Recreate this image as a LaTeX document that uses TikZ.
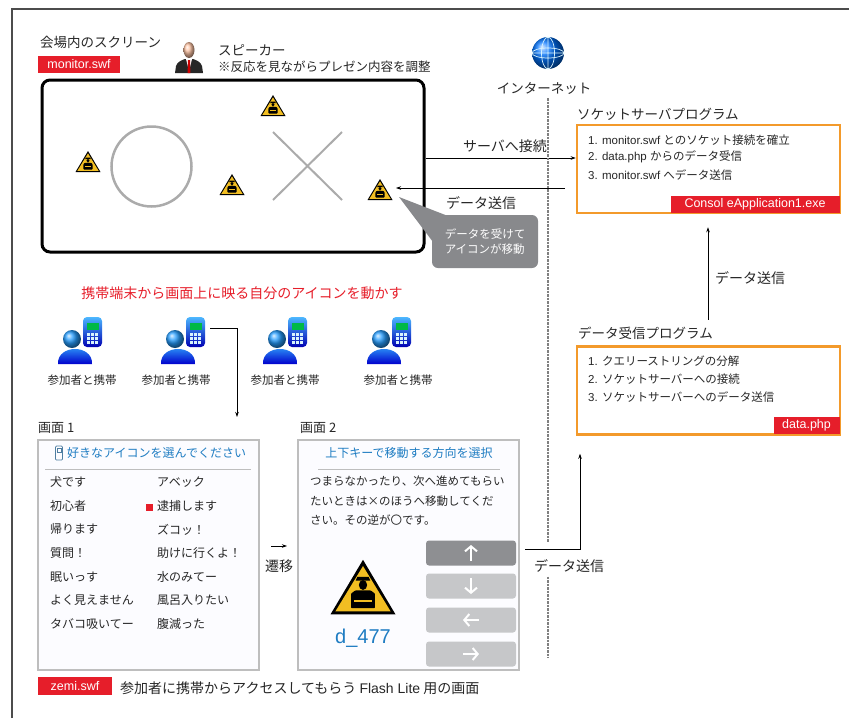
\documentclass[tikz,border=0pt]{standalone}
\usepackage{fontspec}
\setmainfont{Noto Sans CJK JP}
\newfontfamily\lat{Liberation Sans}
\usetikzlibrary{arrows.meta}

\definecolor{tagred}{HTML}{E61E2A}
\definecolor{frameorange}{HTML}{F39A2B}
\definecolor{keyblue}{HTML}{1E7CC2}
\definecolor{signyellow}{HTML}{F2BE22}
\definecolor{panelgray}{HTML}{BEBEBE}
\definecolor{keydark}{HTML}{8E8F92}
\definecolor{keylight}{HTML}{C6C7C9}
\definecolor{bubblegray}{HTML}{88898C}
\definecolor{shapegray}{HTML}{ABABAB}

\newcommand{\fsz}[1]{\fontsize{#1}{#1}\selectfont}

\begin{document}
\begin{tikzpicture}[x=1pt, y=-1pt,
  every node/.style={inner sep=0pt, text=black!85},
  title/.style={font=\fsz{13.5}, anchor=west},
  small/.style={font=\fsz{12}, anchor=west},
  item/.style={font=\fsz{11.5}, anchor=west},
  tag/.style={fill=tagred, text=white, font=\lat\fsz{12.5}, minimum height=17pt},
  prog/.style={draw=frameorange, line width=2.5pt, fill=white,
    minimum width=263pt, minimum height=88pt},
  panel/.style={draw=panelgray, line width=2pt, fill=blue!1!white,
    minimum width=221pt, minimum height=230pt},
  key/.style={rounded corners=3pt, minimum width=90pt, minimum height=25pt},
  keyarrow/.style={white, line width=2pt, -{Straight Barb[length=5pt,width=12pt]}},
  link/.style={-{Stealth[length=5pt,width=3.5pt]}, line width=0.8pt},
  net/.style={gray, line width=1.3pt, dash pattern=on 2.5pt off 1pt},
  sign/.pic={
    \fill[black, line join=round] (0,-12) -- (12.5,9) -- (-12.5,9) -- cycle;
    \fill[signyellow] (0,-9.6) -- (10.6,7.8) -- (-10.6,7.8) -- cycle;
    % officer
    \fill[black] (-2.2,-5.4) -- (2.2,-5.4) -- (2.8,-4) -- (-2.8,-4) -- cycle;
    \fill[black] (0,-2.3) ellipse (1.6 and 1.9);
    \fill[black, rounded corners=0.8pt] (-4.6,6.6) -- (-4.6,1) -- (-3,-0.2)
      -- (3,-0.2) -- (4.6,1) -- (4.6,6.6) -- cycle;
    \fill[signyellow] (-3.4,3.4) rectangle (3.4,4.2);
  },
  mobile/.pic={
    % handset
    \shade[top color=cyan!60!blue!70, bottom color=blue!70!black, rounded corners=4pt]
      (4,-24) rectangle (23,6);
    \fill[green!45!teal] (7.5,-18) rectangle (19.5,-11);
    \foreach \r in {0,1,2}
      \foreach \c in {0,1,2}
        \fill[white!85!cyan] (8+4.2*\c,-8+4.2*\r) rectangle ++(2.8,2.8);
    % person
    \shade[top color=cyan!60!blue!80, bottom color=blue!80!black]
      (-21,23) .. controls (-22,3) and (14,3) .. (13,23) -- cycle;
    \shade[ball color=cyan!55!blue!85] (-7,-2) circle (9);
  }]
\useasboundingbox (0,0) rectangle (849,718);

% page corner
\draw[black!70, line width=1.3pt] (12,718) -- (12,9) -- (849,9);

% hall screen
\node[title] (hall) at (40,42) {会場内のスクリーン};
\node[tag, minimum width=82pt] (montag) at (79,64) {monitor.swf};

% speaker
\begin{scope}[shift={(189,57)}]
  \fill[black!85] (-14,16) -- (-13,9) .. controls (-12,5) and (-7,3) .. (-4,2)
    -- (4,2) .. controls (7,3) and (12,5) .. (13,9) -- (14,16) -- cycle;
  \fill[white] (-3,2) -- (3,2) -- (0,14) -- cycle;
  \fill[red!80!black] (-1,3) -- (1,3) -- (1.4,16) -- (-1.4,16) -- cycle;
  \shade[ball color=red!30!orange!35!white] (0,-7) ellipse (5.5 and 8);
\end{scope}
\node[title] (speaker) at (218,50) {スピーカー};
\node[small, font=\fsz{12.5}] (note) at (218,67) {※反応を見ながらプレゼン内容を調整};

\node[draw, line width=3pt, rounded corners=8pt,
  minimum width=382pt, minimum height=172pt] (screen) at (233,166) {};
\draw[shapegray, line width=2.5pt] (151.5,166.5) circle (40);
\draw[shapegray, line width=2pt] (273,132) -- (342,200) (342,132) -- (273,200);
\foreach \sx/\sy in {88/163, 273/107, 232/186, 380/191}
  \pic at (\sx,\sy) {sign};
\coordinate (signtip) at (396,188);

% internet
\begin{scope}[shift={(548,53)}]
  \shade[ball color=blue!55!cyan] (0,0) circle (16);
  \draw[white!85!cyan, line width=0.7pt] (0,0) ellipse (16 and 5) (0,0) ellipse (6.5 and 16)
    (0,-16) -- (0,16) (-16,0) -- (16,0);
\end{scope}
\node[title, anchor=center] (inet) at (544,89) {インターネット};
\coordinate (netx) at (548,0);

% socket server
\node[title] (socktitle) at (577,114) {ソケットサーバプログラム};
\node[prog] (sock) at (708.5,169) {};
\node[item] at (588,140) {{\lat 1. monitor.swf }とのソケット接続を確立};
\node[item] at (588,157) {{\lat 2. data.php }からのデータ受信};
\node[item] at (588,175) {{\lat 3. monitor.swf }へデータ送信};
\node[tag, anchor=south east, minimum width=169pt] (socktag)
  at ([xshift=-1.5pt, yshift=1.5pt]sock.south east) {Consol eApplication1.exe};

% data receiver
\node[title] (recvtitle) at (578,333) {データ受信プログラム};
\node[prog] (recv) at (708.5,390.5) {};
\node[item] at (588,361) {{\lat 1. }クエリーストリングの分解};
\node[item] at (588,379) {{\lat 2. }ソケットサーバーへの接続};
\node[item] at (588,397) {{\lat 3. }ソケットサーバーへのデータ送信};
\node[tag, anchor=south east, minimum width=66pt] (recvtag)
  at ([xshift=-1.5pt, yshift=1.5pt]recv.south east) {data.php};

% links at the top
\coordinate (c1) at (0,158);
\draw[link] (screen.east |- c1) -- (sock.west |- c1);
\node[title, anchor=center, font=\fsz{14}, fill=white, inner sep=1pt] (connlbl) at (505,146) {サーバへ接続};
\coordinate (c2) at (565,188);
\draw[link] (c2) -- (signtip);
\node[title, anchor=center, font=\fsz{14}] (sendlbl1) at (481,203) {データ送信};
\coordinate (upx) at (708,0);
\draw[link] ([yshift=7pt]recvtitle.north -| upx) -- ([yshift=-13pt]sock.south -| upx);
\node[title, font=\fsz{14}] (sendlbl2) at (715,278) {データ送信};

% call-out
\fill[bubblegray] (399,197) -- (448,216) -- (433,242) -- cycle;
\node[fill=bubblegray, rounded corners=6pt, minimum width=106pt, minimum height=53pt,
  text=white, font=\fsz{11.5}, align=left] (bubble) at (485,241.5)
  {データを受けて\\[3pt]アイコンが移動};

% participants
\node[font=\fsz{14}, text=tagred] (goal) at (242,293) {携帯端末から画面上に映る自分のアイコンを動かす};
\foreach \x/\lx in {79/82, 182/176, 284/285, 388/398} {
  \pic at (\x,341) {mobile};
  \node[font=\fsz{11.5}] at (\lx,380) {参加者と携帯};
}
\coordinate (mob2) at (210,328);
\coordinate (drop) at (237,417);
\draw[link] (mob2) -| (drop);

% screen 1
\node[small, font=\fsz{13}] (scr1title) at (38,428) {画面 1};
\node[panel] (scr1) at (148.5,555) {};
\draw[keyblue!50!gray, line width=0.7pt, rounded corners=1pt] (55.5,446) rectangle (62.5,460);
\draw[keyblue!50!gray, line width=0.5pt] (57,448.5) rectangle (61,452);
\node[small, text=keyblue] (pick) at (67,453) {好きなアイコンを選んでください};
\draw[panelgray, line width=0.8pt] (45,469) -- (251,469);
\foreach \t [count=\i] in {犬です, 初心者, 帰ります, 質問！, 眠いっす, よく見えません, タバコ吸いてー}
  \node[small] at (50,458.3+23.7*\i) {\t};
\foreach \t [count=\i] in {アベック, 逮捕します, ズコッ！, 助けに行くよ！, 水のみてー, 風呂入りたい, 腹減った}
  \node[small] at (157,458.3+23.7*\i) {\t};
\fill[tagred] (146,504) rectangle (153,511);

% screen 2
\node[small, font=\fsz{13}] (scr2title) at (300,428) {画面 2};
\node[panel] (scr2) at (408.5,555) {};
\node[font=\fsz{12}, text=keyblue] (direction) at (409,453) {上下キーで移動する方向を選択};
\draw[panelgray, line width=0.8pt] (318,469) -- (500,469);
\node[anchor=north west, font=\fontsize{11.5}{19.5}\selectfont, align=left] (hint) at (310,476)
  {つまらなかったり、次へ進めてもらい\\たいときは×のほうへ移動してくだ\\さい。その逆が〇です。};
\pic[scale=2.6] at (363,591) {sign};
\node[font=\lat\fsz{20}, text=keyblue] (code) at (363,638) {d\_477};
\foreach \y/\c in {553/keydark, 586/keylight, 620/keylight, 654/keylight}
  \node[key, fill=\c] (k\y) at (471,\y) {};
\draw[keyarrow] (k553.center) ++(0,8) -- ++(0,-16);
\draw[keyarrow] (k586.center) ++(0,-8) -- ++(0,16);
\draw[keyarrow] (k620.center) ++(8,0) -- ++(-16,0);
\draw[keyarrow] (k654.center) ++(-8,0) -- ++(16,0);

% transition
\draw[link] ([xshift=11pt]scr1.east |- 0,546) -- ([xshift=-10pt]scr2.west |- 0,546);
\node[font=\fsz{14}] (trans) at (279,566) {遷移};

% screen 2 to data receiver
\node[title, anchor=center, font=\fsz{14}] (sendlbl3) at (569,566) {データ送信};
\coordinate (upx2) at (580,0);
\draw[link] ([xshift=5pt]scr2.east |- 0,549) -| ([yshift=-18pt]recv.south -| upx2);

% internet border
\draw[net] ([yshift=-3pt]inet.south -| netx) -- ([yshift=17pt]sendlbl3.north -| netx);
\draw[net] ([yshift=-4pt]sendlbl3.south -| netx) -- (netx |- 0,658);

% caption
\node[tag, minimum width=74pt, minimum height=18pt] (zemitag) at (75,686) {zemi.swf};
\node[small, font=\fsz{14}] (caption) at (120,688) {参加者に携帯からアクセスしてもらう {\lat Flash Lite} 用の画面};
\end{tikzpicture}
\end{document}
